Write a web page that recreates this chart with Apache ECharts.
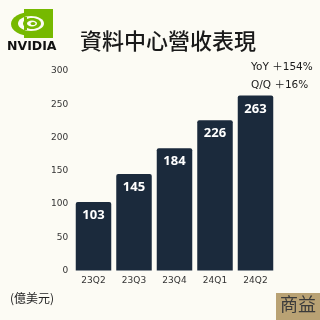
<!DOCTYPE html>
<html><head><meta charset="utf-8">
<script src="https://cdn.jsdelivr.net/npm/echarts@6/dist/echarts.min.js"></script>
<style>html,body{margin:0;padding:0;background:#fcfbf4}#c{width:320px;height:320px}</style>
</head><body><div id="c"></div>
<script>
const categories = ['23Q2','23Q3','23Q4','24Q1','24Q2'];
const revenue = [103,145,184,226,263];
const yTicks = [0,50,100,150,200,250,300];
const titleText = '資料中心營收表現';
const noteLines = ['YoY ＋154%','Q/Q ＋16%'];
const unitText = '(億美元)';
const brandText = '商益';

const chart = echarts.init(document.getElementById('c'), null, {renderer:'canvas'});
const green = '#76b900';
const bg = '#fcfbf4';
chart.setOption({
  backgroundColor:bg,
  animation:false,
  grid:{left:73.25,right:44.25,top:71,bottom:49.5,containLabel:false},
  xAxis:{type:'category',data:categories,
    axisLine:{show:false},axisTick:{show:false},
    axisLabel:{color:'#333',fontSize:9,fontFamily:'DejaVu Sans',margin:6}},
  yAxis:{type:'value',min:yTicks[0],max:yTicks[yTicks.length-1],interval:50,
    splitLine:{show:false},axisLine:{show:false},axisTick:{show:false},
    axisLabel:{color:'#333',fontSize:9,fontFamily:'DejaVu Sans',margin:5}},
  series:[{type:'bar',data:revenue,barWidth:35.5,
    itemStyle:{color:'#1b2a3c',borderRadius:[2,2,0,0]},
    label:{show:true,position:'insideTop',distance:7,color:'#fff',fontSize:13,fontWeight:'bold',fontFamily:'Noto Sans'}}],
  graphic:[
    {type:'rect',shape:{x:24,y:9,width:29,height:29},style:{fill:green}},
    {type:'ellipse',shape:{cx:31,cy:24,rx:20,ry:12},style:{fill:green}},
    {type:'ellipse',shape:{cx:31,cy:23.5,rx:13,ry:7.5},style:{fill:bg}},
    {type:'ellipse',shape:{cx:32,cy:23.5,rx:9,ry:5.5},style:{fill:green}},
    {type:'ellipse',shape:{cx:32,cy:23.5,rx:5,ry:3},style:{fill:bg}},
    {type:'ellipse',shape:{cx:33,cy:23.5,rx:2.5,ry:1.6},style:{fill:green}},
    {type:'rect',shape:{x:24,y:17,width:3,height:13},style:{fill:green}},
    {type:'text',left:7,top:40,style:{text:'NVIDIA',fill:'#111',font:'bold 12.5px "DejaVu Sans"'}},
    {type:'text',left:80,top:30,style:{text:titleText,fill:'#1a1a1a',font:'500 22px "Noto Sans CJK TC"'}},
    {type:'text',left:251,top:62,style:{text:noteLines[0],fill:'#1a1a1a',font:'10.5px "DejaVu Sans","Noto Sans CJK TC"'}},
    {type:'text',left:251,top:80,style:{text:noteLines[1],fill:'#1a1a1a',font:'10.5px "DejaVu Sans","Noto Sans CJK TC"'}},
    {type:'text',left:10,top:292,style:{text:unitText,fill:'#222',font:'12px "Noto Sans CJK TC"'}},
    {type:'rect',shape:{x:276,y:293,width:44,height:27},style:{fill:'#b9a274'}},
    {type:'text',left:280,top:295,style:{text:brandText,fill:'#3a3a3a',font:'18px "Noto Sans CJK TC"'}}
  ]
});
</script></body></html>
